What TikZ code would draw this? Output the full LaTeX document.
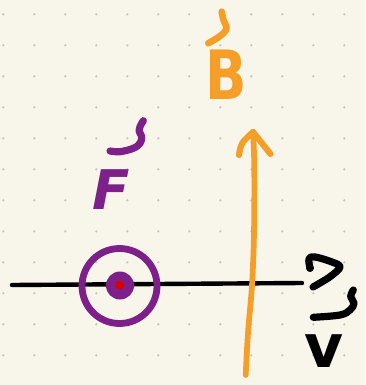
\documentclass[tikz,border=0pt]{standalone}
\usepackage{fontspec}
\setmainfont{DejaVu Sans}
\definecolor{paper}{RGB}{248,246,234}
\definecolor{griddot}{RGB}{200,200,192}
\definecolor{mpurple}{RGB}{126,32,138}
\definecolor{morange}{RGB}{245,158,40}
\definecolor{mred}{RGB}{215,0,0}
\begin{document}
\begin{tikzpicture}[x=0.75pt,y=-0.75pt,line cap=round,line join=round,
  blackink/.style={draw=black,line width=5.4pt},
  orangeink/.style={draw=morange,line width=4.3pt},
  purpleink/.style={draw=mpurple,line width=5.4pt},
  letter/.style={inner sep=0pt,font=\bfseries}]
\fill[paper] (0,0) rectangle (365,385);
\useasboundingbox (0,0) rectangle (365,385);
% dot grid
\foreach \i in {0,...,11}
  \foreach \j in {0,...,11}
    \fill[griddot] (3.3+31*\i,14.3+31*\j) circle (1.3);
% black line
\coordinate (L0) at (12,285);
\coordinate (L1) at (302,283);
\draw[draw=black,line width=3.3pt] (L0) -- (L1);
% hand-drawn arrowhead of the line
\draw[blackink] plot[smooth,tension=0.6] coordinates {(310,268) (309,259) (315,257) (332,262) (340,267) (331,276) (320,283) (313,287)};
\fill (310,268) circle (4);
% orange B arrow
\coordinate (Ob) at (245.7,375);
\coordinate (Ot) at (253,132);
\draw[orangeink] plot[smooth,tension=0.6] coordinates {(Ob) (248,333) (252,285) (254,233) (254.3,167) (Ot)};
\draw[orangeink,line width=4.6pt] (239,155) .. controls (241,143) .. (Ot);
\draw[orangeink,line width=4.6pt] (Ot) -- (270.5,154);
% circle with dot
\node[circle,draw=mpurple,line width=5.1pt,minimum size=75pt*0.75,inner sep=0pt] (C) at (119.5,286) {};
\fill[mpurple] (120,285.5) circle (14);
\fill[mred] (119.5,285) circle (4.5);
% letters
\node[letter,text=morange,font=\fontsize{51}{51}\selectfont\bfseries] (B) at (226,75) {\scalebox{0.8}[1]{B}};
\draw[orangeink,line width=5pt] plot[smooth,tension=0.6] coordinates {(221.7,11.7) (223.5,20) (226.5,28) (223.3,33.3) (216.7,38.3) (208.3,43.3)};
\node[letter,text=mpurple,font=\fontsize{41}{41}\selectfont\bfseries\itshape] (F) at (111,190) {F};
\draw[purpleink] plot[smooth,tension=0.6] coordinates {(143.3,120.7) (140,126.7) (139.3,131.7) (141.7,136.7) (140,143.3) (133.3,148.3) (120,151.7) (110,151)};
\node[letter,text=black,font=\fontsize{45}{45}\selectfont\bfseries] (v) at (324,351) {v};
\draw[blackink] plot[smooth,tension=0.6] coordinates {(353.3,290) (350.7,296.7) (354,303.3) (350,310) (340,315) (313.3,317.3)};
\end{tikzpicture}
\end{document}
